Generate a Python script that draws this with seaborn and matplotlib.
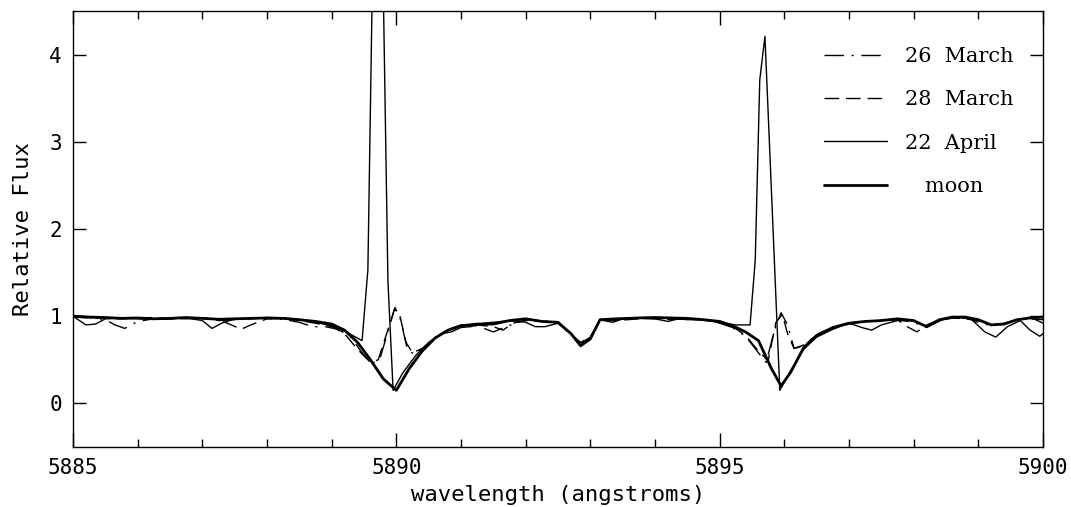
import matplotlib
matplotlib.use("Agg")
import matplotlib.pyplot as plt
import seaborn as sns
import pandas as pd

# ---------------- data ----------------
wl_moon = [5885.0, 5885.25, 5885.5, 5885.75, 5886.0, 5886.25, 5886.5, 5886.75, 5887.0, 5887.25,
           5887.5, 5887.75, 5888.0, 5888.25, 5888.5, 5888.75, 5889.0, 5889.2, 5889.4, 5889.6,
           5889.8, 5890.0, 5890.2, 5890.4, 5890.6, 5890.8, 5891.0, 5891.25, 5891.5, 5891.75,
           5892.0, 5892.25, 5892.5, 5892.7, 5892.85, 5893.0, 5893.15, 5893.4, 5893.75, 5894.0,
           5894.25, 5894.5, 5894.75, 5895.0, 5895.2, 5895.4, 5895.6, 5895.8, 5895.95, 5896.1,
           5896.3, 5896.5, 5896.75, 5897.0, 5897.25, 5897.5, 5897.75, 5898.0, 5898.2, 5898.4,
           5898.6, 5898.8, 5899.0, 5899.2, 5899.4, 5899.6, 5899.8, 5900.0]
flux_moon = [1.00, 0.99, 0.985, 0.975, 0.98, 0.97, 0.975, 0.985, 0.975, 0.965,
             0.97, 0.975, 0.98, 0.975, 0.96, 0.94, 0.91, 0.84, 0.70, 0.50,
             0.28, 0.15, 0.40, 0.60, 0.75, 0.84, 0.89, 0.91, 0.91, 0.95,
             0.97, 0.94, 0.93, 0.80, 0.66, 0.74, 0.96, 0.97, 0.98, 0.985,
             0.98, 0.975, 0.96, 0.94, 0.89, 0.82, 0.72, 0.40, 0.20, 0.36,
             0.64, 0.78, 0.87, 0.92, 0.94, 0.95, 0.97, 0.95, 0.88, 0.96,
             0.99, 0.99, 0.96, 0.90, 0.91, 0.96, 0.98, 0.99]

wl_apr22 = [5885.0, 5885.1, 5885.2, 5885.35, 5885.5, 5885.75, 5886.0, 5886.25, 5886.5, 5886.75,
            5887.0, 5887.15, 5887.3, 5887.5, 5887.75, 5888.0, 5888.25, 5888.5, 5888.75, 5889.0,
            5889.2, 5889.47, 5889.56, 5889.65, 5889.78, 5889.87, 5889.95, 5890.1, 5890.3, 5890.5,
            5890.7, 5890.85, 5891.0, 5891.15, 5891.35, 5891.5, 5891.75, 5892.0, 5892.15, 5892.3,
            5892.5, 5892.7, 5892.85, 5893.0, 5893.15, 5893.35, 5893.5, 5893.75, 5894.0, 5894.2,
            5894.35, 5894.6, 5894.8, 5895.0, 5895.25, 5895.47, 5895.55, 5895.62, 5895.70, 5895.93,
            5896.1, 5896.3, 5896.5, 5896.75, 5897.0, 5897.2, 5897.35, 5897.5, 5897.75, 5898.0,
            5898.2, 5898.45, 5898.7, 5898.9, 5899.1, 5899.27, 5899.45, 5899.65, 5899.8, 5899.95,
            5900.0]
flux_apr22 = [1.00, 0.95, 0.90, 0.91, 0.97, 0.98, 0.97, 0.965, 0.97, 0.98,
              0.95, 0.86, 0.92, 0.97, 0.97, 0.985, 0.98, 0.96, 0.93, 0.89,
              0.83, 0.72, 1.53, 5.80, 5.60, 1.40, 0.15, 0.35, 0.55, 0.70,
              0.80, 0.82, 0.87, 0.88, 0.92, 0.93, 0.95, 0.93, 0.88, 0.88,
              0.92, 0.80, 0.69, 0.76, 0.96, 0.93, 0.97, 0.98, 0.97, 0.94,
              0.97, 0.97, 0.95, 0.93, 0.90, 0.90, 1.64, 3.71, 4.21, 0.15,
              0.38, 0.62, 0.76, 0.85, 0.92, 0.87, 0.84, 0.90, 0.95, 0.95,
              0.88, 0.96, 0.99, 0.96, 0.82, 0.76, 0.88, 0.95, 0.84, 0.77,
              0.80]

wl_mar28 = [5885.0, 5885.25, 5885.5, 5885.75, 5886.0, 5886.25, 5886.5, 5886.75, 5887.0, 5887.25,
            5887.45, 5887.6, 5887.75, 5888.0, 5888.25, 5888.5, 5888.75, 5889.0, 5889.2, 5889.4,
            5889.6, 5889.72, 5889.85, 5889.97, 5890.05, 5890.15, 5890.25, 5890.4, 5890.6, 5890.8,
            5891.0, 5891.25, 5891.5, 5891.65, 5891.8, 5892.0, 5892.25, 5892.5, 5892.7, 5892.85,
            5893.0, 5893.15, 5893.4, 5893.75, 5894.0, 5894.25, 5894.5, 5894.75, 5895.0, 5895.2,
            5895.4, 5895.6, 5895.75, 5895.87, 5895.97, 5896.05, 5896.15, 5896.3, 5896.5, 5896.75,
            5897.0, 5897.25, 5897.5, 5897.75, 5897.9, 5898.05, 5898.2, 5898.4, 5898.6, 5898.8,
            5899.0, 5899.2, 5899.4, 5899.6, 5899.8, 5900.0]
flux_mar28 = [0.99, 0.98, 0.975, 0.97, 0.98, 0.985, 0.97, 0.975, 0.98, 0.96,
              0.90, 0.85, 0.90, 0.97, 0.975, 0.95, 0.92, 0.88, 0.80, 0.62,
              0.47, 0.50, 0.80, 1.08, 1.02, 0.70, 0.58, 0.63, 0.75, 0.85,
              0.89, 0.90, 0.88, 0.84, 0.92, 0.95, 0.94, 0.92, 0.79, 0.70,
              0.76, 0.95, 0.95, 0.97, 0.98, 0.96, 0.97, 0.955, 0.93, 0.88,
              0.78, 0.60, 0.49, 0.93, 1.02, 0.80, 0.63, 0.66, 0.78, 0.86,
              0.91, 0.94, 0.95, 0.96, 0.88, 0.82, 0.90, 0.96, 0.98, 0.97,
              0.95, 0.90, 0.92, 0.96, 0.99, 0.92]

wl_mar26 = [5885.0, 5885.25, 5885.5, 5885.65, 5885.8, 5886.0, 5886.25, 5886.5, 5886.75, 5887.0,
            5887.25, 5887.5, 5887.75, 5888.0, 5888.25, 5888.5, 5888.7, 5888.9, 5889.1, 5889.3,
            5889.45, 5889.62, 5889.75, 5889.88, 5889.98, 5890.07, 5890.17, 5890.28, 5890.45, 5890.65,
            5890.85, 5891.0, 5891.25, 5891.5, 5891.7, 5892.0, 5892.25, 5892.5, 5892.7, 5892.85,
            5893.0, 5893.15, 5893.4, 5893.75, 5894.0, 5894.25, 5894.5, 5894.75, 5895.0, 5895.2,
            5895.4, 5895.6, 5895.72, 5895.85, 5895.95, 5896.05, 5896.15, 5896.3, 5896.5, 5896.75,
            5897.0, 5897.25, 5897.5, 5897.75, 5898.0, 5898.2, 5898.4, 5898.6, 5898.8, 5899.0,
            5899.2, 5899.4, 5899.6, 5899.8, 5900.0]
flux_mar26 = [1.00, 0.985, 0.96, 0.90, 0.86, 0.94, 0.97, 0.98, 0.97, 0.98,
              0.95, 0.96, 0.98, 0.975, 0.965, 0.93, 0.88, 0.88, 0.85, 0.76,
              0.60, 0.45, 0.52, 0.85, 1.10, 0.95, 0.62, 0.56, 0.65, 0.78,
              0.86, 0.90, 0.89, 0.82, 0.88, 0.96, 0.95, 0.93, 0.80, 0.68,
              0.75, 0.96, 0.96, 0.975, 0.97, 0.975, 0.96, 0.96, 0.92, 0.87,
              0.77, 0.58, 0.47, 0.85, 1.04, 0.90, 0.63, 0.67, 0.79, 0.87,
              0.92, 0.94, 0.955, 0.96, 0.93, 0.87, 0.95, 0.98, 0.985, 0.93,
              0.89, 0.92, 0.96, 0.97, 0.96]

labels = ["26  March", "28  March", "22  April", "   moon"]
x_ticks = [5885, 5890, 5895, 5900]
y_ticks = [0, 1, 2, 3, 4]

# ---------------- plot ----------------
sns.set_theme(style="ticks")
plt.rcParams["font.family"] = ["DejaVu Sans Mono", "DejaVu Sans"]
plt.rcParams["text.color"] = "black"
plt.rcParams["axes.labelcolor"] = "black"
plt.rcParams["xtick.color"] = "black"
plt.rcParams["ytick.color"] = "black"

fig = plt.figure(figsize=(10.71, 5.07), dpi=100)
ax = fig.add_axes([73 / 1071, 1 - 447 / 507, 970 / 1071, 436 / 507])

series = [
    (wl_mar26, flux_mar26, labels[0], (0, (14, 5.5, 1.5, 5.5)), 1.0),
    (wl_mar28, flux_mar28, labels[1], (0, (10.5, 5)), 1.0),
    (wl_apr22, flux_apr22, labels[2], "-", 1.0),
    (wl_moon, flux_moon, labels[3], "-", 2.0),
]
for wl, fl, lab, ls, lw in series:
    df = pd.DataFrame({"wavelength": wl, "flux": fl})
    sns.lineplot(data=df, x="wavelength", y="flux", ax=ax, color="black",
                 linewidth=lw, linestyle=ls, label=lab, estimator=None, sort=False)

ax.set_xlim(5885, 5900)
ax.set_ylim(-0.5, 4.5)
ax.set_xticks(x_ticks)
ax.set_xticks(range(5885, 5901), minor=True)
ax.set_yticks(y_ticks)
ax.tick_params(axis="both", which="both", direction="in", top=True, right=True,
               colors="black", labelcolor="black", width=1.0)
ax.tick_params(axis="x", which="major", length=10, pad=8, labelsize=15)
ax.tick_params(axis="x", which="minor", length=6)
ax.tick_params(axis="y", which="major", length=9.5, pad=8, labelsize=15)
for s in ax.spines.values():
    s.set_linewidth(1.0)
    s.set_color("black")

ax.set_xlabel("wavelength (angstroms)", fontsize=16, labelpad=5, color="black")
ax.set_ylabel("Relative Flux", fontsize=16, labelpad=12, color="black")

leg = ax.legend(loc="upper left", bbox_to_anchor=((824 - 73) / 970, (447 - 47) / 436),
                frameon=False, borderpad=0, borderaxespad=0, handlelength=3.0,
                handletextpad=0.9, labelspacing=1.17,
                prop={"family": "DejaVu Serif", "size": 15})
for t in leg.get_texts():
    t.set_color("black")

fig.savefig("out.png", dpi=100)
